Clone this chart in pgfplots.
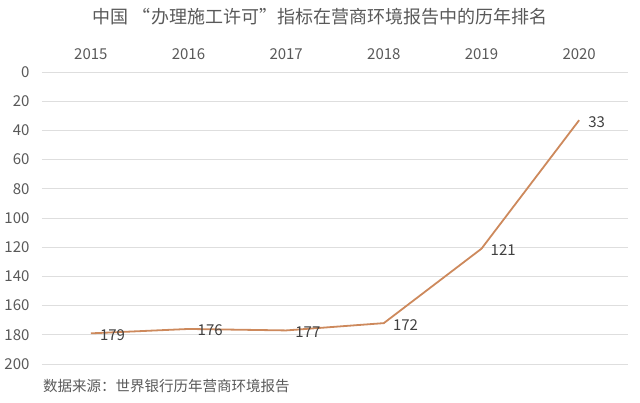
\documentclass[border=0pt]{standalone}
\usepackage{pgfplots}
\pgfplotsset{compat=1.18}
\usepackage{fontspec}
\setmainfont{Noto Sans CJK SC}
\definecolor{linec}{RGB}{205,137,92}
\definecolor{gridc}{RGB}{222,222,222}
\definecolor{tickc}{RGB}{89,89,89}
\definecolor{labc}{RGB}{64,64,64}
\begin{document}
\begin{tikzpicture}[x=1pt,y=1pt]
\path[use as bounding box] (0,0) rectangle (640,-402);
\node[font=\fontsize{18}{20}\selectfont, text=tickc] at (320,-17) {中国 “办理施工许可”指标在营商环境报告中的历年排名};
\begin{axis}[
  at={(42pt,-72pt)}, anchor=north west,
  scale only axis, width=586pt, height=292pt,
  xmin=-0.5, xmax=5.5, ymin=0, ymax=200, y dir=reverse,
  xtick={0,1,2,3,4,5},
  xticklabels={2015,2016,2017,2018,2019,2020},
  xticklabel pos=upper,
  ytick={0,20,...,200},
  ymajorgrids, grid style={draw=gridc, line width=1pt},
  axis line style={draw=none}, major tick length=0pt,
  tick label style={font=\fontsize{15}{17}\selectfont, text=tickc},
  /pgf/number format/assume math mode=true,
  yticklabel style={anchor=east, xshift=-9pt},
  xticklabel style={yshift=9pt},
  clip=false,
  nodes near coords,
  point meta=explicit symbolic,
  every node near coord/.append style={anchor=west, font=\fontsize{15}{17}\selectfont, text=labc, xshift=5pt, yshift=-1.5pt},
]
\addplot[color=linec, line width=1.8pt, mark=none] coordinates {
 (0,179) [179] (1,176) [176] (2,177) [177] (3,172) [172] (4,121) [121] (5,33) [33]
};
\end{axis}
\node[anchor=west, font=\fontsize{14.5}{16}\selectfont, text=tickc, inner sep=0pt] at (43,-386) {数据来源：世界银行历年营商环境报告};
\end{tikzpicture}
\end{document}
